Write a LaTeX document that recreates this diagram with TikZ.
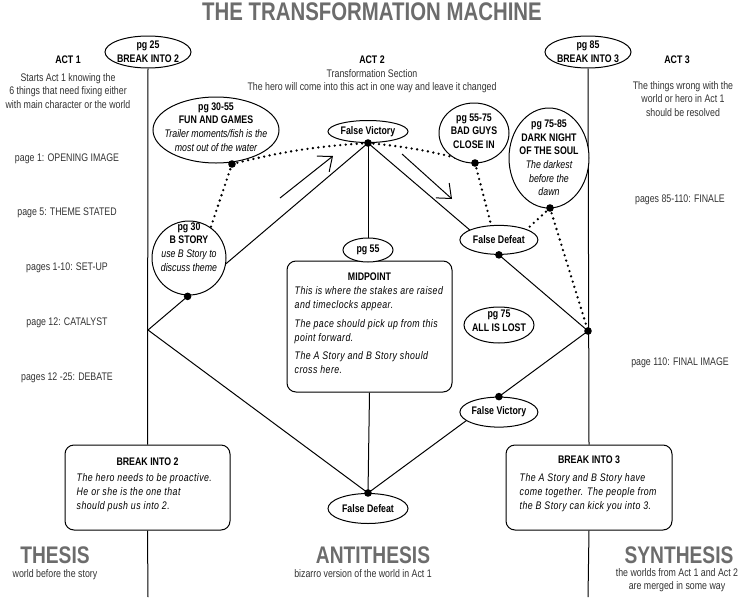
\documentclass[tikz,border=0pt]{standalone}
\usepackage{fontspec}
\setmainfont{Liberation Sans}[FakeStretch=0.8]
\usepackage{tikz}
\usetikzlibrary{shapes.geometric,arrows.meta,positioning,calc,backgrounds}
\definecolor{inkgray}{RGB}{50,50,50}
\definecolor{titlegray}{RGB}{108,108,108}
\newcommand{\plainit}[1]{{\mdseries\itshape #1}}

\begin{document}
\begin{tikzpicture}[x=1pt,y=-1pt,font=\fontsize{11}{13.6}\selectfont]
	\tikzstyle{oval}=[ellipse,draw,line width=1pt,fill=white,inner sep=0pt]
	\tikzstyle{ovaltext}=[align=center,inner sep=0pt,font=\fontsize{11}{13.6}\selectfont\bfseries]
	\tikzstyle{storybox}=[rectangle,draw,line width=1pt,fill=white,rounded corners=9pt]
	\tikzstyle{boxhead}=[anchor=north,inner sep=0pt,font=\fontsize{11}{13.6}\selectfont\bfseries]
	\tikzstyle{boxbody}=[anchor=north west,align=left,inner sep=0pt,font=\fontsize{11}{13.8}\selectfont\itshape\addfontfeatures{LetterSpace=4}]
	\tikzstyle{acthead}=[inner sep=0pt,font=\fontsize{11}{13.6}\selectfont\bfseries]
	\tikzstyle{note}=[align=center,inner sep=0pt,text=inkgray]
	\tikzstyle{bigword}=[inner sep=0pt,text=titlegray,font=\fontsize{24}{28}\selectfont\bfseries]
	\tikzstyle{edge}=[line width=1pt]
	\tikzstyle{dotline}=[line width=2.6pt,dash pattern=on 0pt off 5.5pt,line cap=round]
	\tikzstyle{cue}=[edge,-{Straight Barb[length=12pt,width=20pt]}]
	\useasboundingbox (0,0) rectangle (750,600);

	% title and acts
	\node[bigword,font=\fontsize{25.5}{30}\selectfont\bfseries] (title) at (372,12) {THE TRANSFORMATION MACHINE};
	\node[acthead] (act1) at (68,60) {ACT 1};
	\node[note,below=9pt of act1] (act1-d) {Starts Act 1 knowing the\\6 things that need fixing either\\with main character or the world};
	\node[acthead] (act2) at (372,60) {ACT 2};
	\node[note,below=5pt of act2] (act2-d) {Transformation Section\\The hero will come into this act in one way and leave it changed};
	\node[acthead] (act3) at (677,60) {ACT 3};
	\node[note,below=17pt of act3,xshift=6pt] (act3-d) {The things wrong with the\\world or hero in Act 1\\should be resolved};

	% page beats
	\foreach \y/\txt [count=\i] in {159/page 1: OPENING IMAGE,213/page 5: THEME STATED,268/pages 1-10: SET-UP,323/page 12: CATALYST,378/pages 12 -25: DEBATE}
		\node[note] (lbl\i) at (67,\y) {\txt};
	\node[note] (finale) at (680,200) {pages 85-110: FINALE};
	\node[note] (finalimg) at (680,363) {page 110: FINAL IMAGE};

	% the diamond
	\coordinate (vL) at (148,330);
	\coordinate (vT) at (368,143);
	\coordinate (vR) at (588,331);
	\coordinate (vB) at (368,493);
	\coordinate (bDot) at ($(vL)!0.18!(vT)$);
	\coordinate (fdDot) at ($(vT)!0.595!(vR)$);
	\coordinate (fvDot) at ($(vR)!0.405!(vB)$);
	\coordinate (funDot) at (232,164);
	\coordinate (badDot) at (475,163);
	\coordinate (darkDot) at (550,208);
	\coordinate (botL) at (148,597);
	\coordinate (botR) at (588,597);
	\coordinate (cue1s) at (280,198);
	\coordinate (cue1e) at (333,156);
	\coordinate (cue2s) at (402,154);
	\coordinate (cue2e) at (452,199);

	% ovals
	\node[oval,minimum width=86,minimum height=32] (brk2o) at (148,52) {};
	\node[ovaltext] (brk2o-t) at (brk2o) {pg 25\\BREAK INTO 2};
	\node[oval,minimum width=86,minimum height=32] (brk3o) at (588,52) {};
	\node[ovaltext] (brk3o-t) at (brk3o) {pg 85\\BREAK INTO 3};
	\node[oval,minimum width=126,minimum height=66] (fun) at (216,130) {};
	\node[ovaltext] (fun-t) at (216,127) {pg 30-55\\FUN AND GAMES\\\plainit{Trailer moments/fish is the}\\\plainit{most out of the water}};
	\node[oval,minimum width=74,minimum height=74] (bst) at (189,258) {};
	\node[ovaltext] (bst-t) at (189,247) {pg 30\\B STORY\\\plainit{use B Story to}\\\plainit{discuss theme}};
	\node[oval,minimum width=80,minimum height=22,anchor=south] (fv1) at (vT) {};
	\node[ovaltext] (fv1-t) at (fv1) {False Victory};
	\node[oval,minimum width=70,minimum height=60] (bad) at (474,133) {};
	\node[ovaltext] (bad-t) at (474,131) {pg 55-75\\BAD GUYS\\CLOSE IN};
	\node[oval,minimum width=80,minimum height=100] (dark) at (549,158) {};
	\node[ovaltext] (dark-t) at (dark) {pg 75-85\\DARK NIGHT\\OF THE SOUL\\\plainit{The darkest}\\\plainit{before the}\\\plainit{dawn}};
	\node[oval,minimum width=78,minimum height=29,anchor=south] (fd1) at (fdDot) {};
	\node[ovaltext] (fd1-t) at (fd1) {False Defeat};

	% midpoint
	\node[storybox,minimum width=165,minimum height=131] (mid) at (369.5,326.5) {};
	\node[boxhead] (mid-h) at ($(mid.north)+(0,12)$) {MIDPOINT};
	\node[boxbody] (mid-b) at ($(mid.north west)+(8,26)$) {This is where the stakes are raised\\and timeclocks appear.\\[5pt]The pace should pick up from this\\point forward.\\[5pt]The A Story and B Story should\\cross here.};
	\node[oval,minimum width=50,minimum height=24] (pg55) at (368,250) {};
	\node[ovaltext] (pg55-t) at (pg55) {pg 55};
	\node[oval,minimum width=70,minimum height=36] (lost) at (499,325) {};
	\node[ovaltext] (lost-t) at (499,321) {pg 75\\ALL IS LOST};
	\node[oval,minimum width=78,minimum height=30,anchor=north] (fv2) at (fvDot) {};
	\node[ovaltext] (fv2-t) at (fv2) {False Victory};
	\node[oval,minimum width=80,minimum height=30,anchor=north] (fd2) at (vB) {};
	\node[ovaltext] (fd2-t) at (fd2) {False Defeat};

	% break boxes
	\node[storybox,minimum width=165,minimum height=85] (brk2) at (147.5,487.5) {};
	\node[boxhead] (brk2-h) at ($(brk2.north)+(0,13)$) {BREAK INTO 2};
	\node[boxbody] (brk2-b) at ($(brk2.north west)+(12,29)$) {The hero needs to be proactive.\\He or she is the one that\\should push us into 2.};
	\node[storybox,minimum width=166,minimum height=85] (brk3) at (589,487.5) {};
	\node[boxhead] (brk3-h) at ($(brk3.north)+(0,11)$) {BREAK INTO 3};
	\node[boxbody] (brk3-b) at ($(brk3.north west)+(14,29)$) {The A Story and B Story have\\come together. The people from\\the B Story can kick you into 3.};

	% thesis / antithesis / synthesis
	\node[bigword] (thesis) at (55,555) {THESIS};
	\node[note] (thesis-d) at (55,575) {world before the story};
	\node[bigword] (anti) at (373,555) {ANTITHESIS};
	\node[note] (anti-d) at (363,574) {bizarro version of the world in Act 1};
	\node[bigword] (synth) at (679,555) {SYNTHESIS};
	\node[note] (synth-d) at (677,580) {the worlds from Act 1 and Act 2\\are merged in some way};

	\begin{scope}[on background layer]
		\draw[edge] (brk2o.south) -- (brk2.north);
		\draw[edge] (brk2.south) -- (botL);
		\draw[edge] (brk3o.south) -- (brk3.north);
		\draw[edge] (brk3.south) -- (botR);
		\draw[edge] (vT) -- (pg55.north);
		\draw[edge] (mid.south) -- (vB);
		\draw[edge] (vL) -- (vT) -- (vR) -- (vB) -- cycle;
		\draw[dotline] (funDot) to[bend left=5] (vT);
		\draw[dotline] (vT) to[bend left=5] (badDot);
		\draw[dotline] (funDot) -- (bDot);
		\draw[dotline] (badDot) -- (fdDot);
		\draw[dotline] (darkDot) -- (fdDot);
		\draw[dotline] (darkDot) -- (vR);
	\end{scope}
	\draw[cue] (cue1s) -- (cue1e);
	\draw[cue] (cue2s) -- (cue2e);
	\foreach \d in {vT,funDot,bDot,badDot,darkDot,fdDot,vR,fvDot,vB}
		\fill (\d) circle (3.8pt);
\end{tikzpicture}
\end{document}
